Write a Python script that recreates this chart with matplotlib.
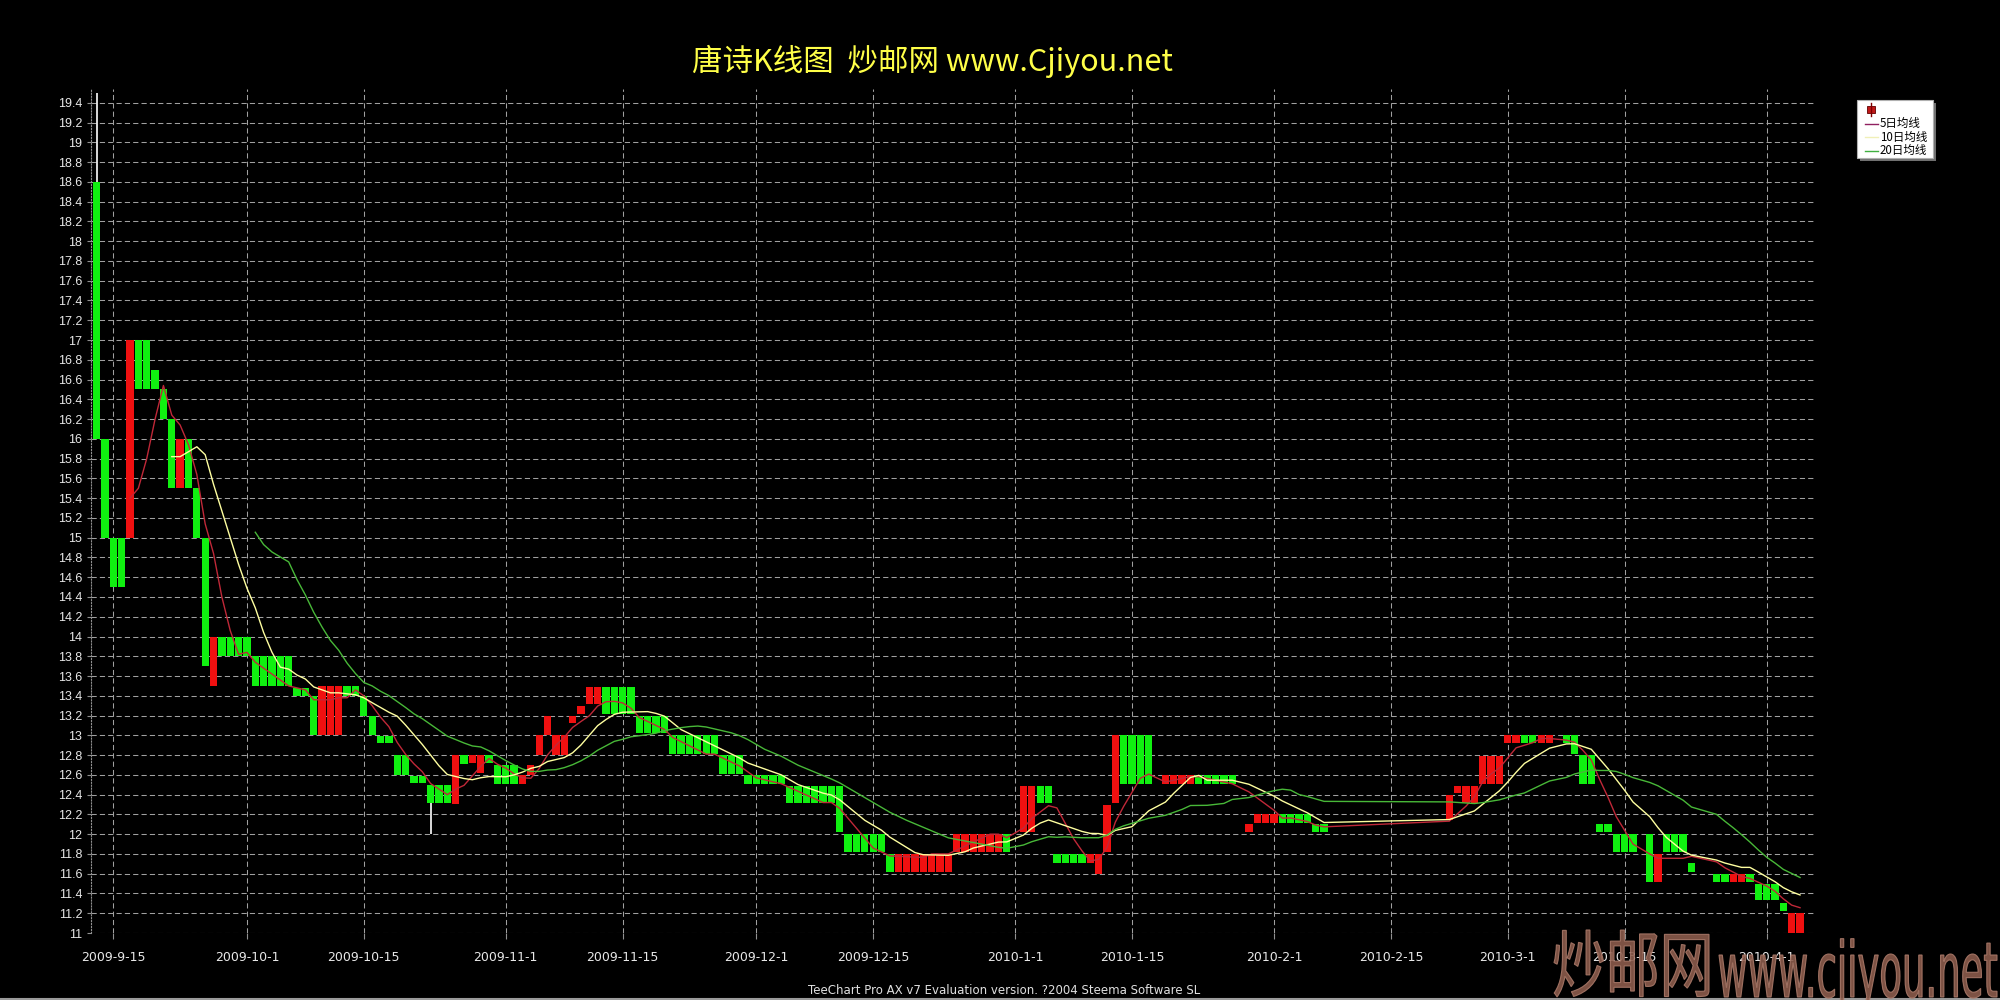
import matplotlib
matplotlib.use('Agg')
import numpy as np
import pandas as pd
import matplotlib.pyplot as plt
import matplotlib.dates as mdates
from matplotlib.patches import Rectangle, PathPatch
from matplotlib.lines import Line2D
from matplotlib.textpath import TextPath
from matplotlib.font_manager import FontProperties
from matplotlib.transforms import Affine2D

FIG_W, FIG_H = 2000, 1000
CJK = ['Noto Sans CJK SC', 'DejaVu Sans']
NARROW = ['Liberation Sans Narrow', 'DejaVu Sans']

# one candle per calendar day from START_DATE, None = no candle that day
START_DATE = '2009-09-13'

opens = [
    18.6, 16.0, 15.0, 15.0, 15.0, 17.0, 17.0, 16.7, 16.5, 16.2,
    15.5, 16.0, 15.5, 15.0, 13.5, 14.0, 14.0, 14.0, 14.0, 13.8,
    13.8, 13.8, 13.8, 13.8, 13.48, 13.48, 13.4, 13.0, 13.0, 13.0,
    13.5, 13.5, 13.4, 13.2, 12.99, 12.99, 12.8, 12.8, 12.59, 12.59,
    12.5, 12.5, 12.5, 12.31, 12.8, 12.72, 12.62, 12.8, 12.7, 12.7,
    12.7, 12.51, 12.6, 12.8, 13.0, 12.8, 12.8, 13.12, 13.22, 13.32,
    13.32, 13.49, 13.49, 13.49, 13.49, 13.2, 13.2, 13.2, 13.2, 13.0,
    13.0, 13.0, 13.0, 13.0, 13.0, 12.8, 12.8, 12.8, 12.6, 12.6,
    12.6, 12.6, 12.6, 12.49, 12.49, 12.49, 12.49, 12.49, 12.49, 12.49,
    12.0, 12.0, 12.0, 12.0, 12.0, 11.8, 11.62, 11.62, 11.62, 11.62,
    11.62, 11.62, 11.62, 11.82, 11.82, 11.82, 11.82, 11.82, 11.82, 12.0,
    None, 12.02, 12.02, 12.49, 12.49, 11.8, 11.8, 11.8, 11.8, 11.71,
    11.6, 11.82, 12.32, 13.0, 13.0, 13.0, 13.0, None, 12.51, 12.51,
    12.51, 12.51, 12.6, 12.6, 12.6, 12.6, 12.6, None, 12.02, 12.11,
    12.11, 12.11, 12.2, 12.2, 12.2, 12.2, 12.1, 12.1, None, None,
    None, None, None, None, None, None, None, None, None, None,
    None, None, 12.14, 12.42, 12.32, 12.32, 12.51, 12.51, 12.51, 12.92,
    12.92, 13.0, 13.0, 12.92, 12.92, None, 13.0, 13.0, 12.8, 12.8,
    12.1, 12.1, 12.0, 12.0, 12.0, None, 12.0, 11.52, 12.0, 12.0,
    12.0, 11.71, None, None, 11.6, 11.6, 11.52, 11.52, 11.6, 11.5,
    11.5, 11.5, 11.3, 11.0, 11.0,
]

closes = [
    16.0, 15.0, 14.5, 14.5, 17.0, 16.5, 16.5, 16.5, 16.2, 15.5,
    16.0, 15.5, 15.0, 13.7, 14.0, 13.8, 13.8, 13.8, 13.8, 13.5,
    13.5, 13.5, 13.5, 13.5, 13.4, 13.4, 13.0, 13.5, 13.5, 13.5,
    13.4, 13.4, 13.2, 13.0, 12.92, 12.92, 12.6, 12.6, 12.52, 12.52,
    12.32, 12.32, 12.32, 12.8, 12.71, 12.8, 12.8, 12.72, 12.51, 12.51,
    12.51, 12.6, 12.7, 13.0, 13.2, 13.0, 13.0, 13.2, 13.3, 13.49,
    13.49, 13.22, 13.22, 13.22, 13.22, 13.02, 13.02, 13.02, 13.02, 12.81,
    12.81, 12.81, 12.81, 12.81, 12.81, 12.61, 12.61, 12.61, 12.51, 12.51,
    12.51, 12.51, 12.51, 12.32, 12.32, 12.32, 12.32, 12.32, 12.32, 12.02,
    11.82, 11.82, 11.82, 11.82, 11.82, 11.62, 11.8, 11.8, 11.8, 11.8,
    11.8, 11.8, 11.8, 12.0, 12.0, 12.0, 12.0, 12.0, 12.0, 11.82,
    None, 12.49, 12.49, 12.32, 12.32, 11.71, 11.71, 11.71, 11.71, 11.8,
    11.8, 12.3, 13.0, 12.51, 12.51, 12.51, 12.51, None, 12.6, 12.6,
    12.6, 12.6, 12.51, 12.51, 12.51, 12.51, 12.51, None, 12.1, 12.2,
    12.2, 12.2, 12.11, 12.11, 12.11, 12.11, 12.02, 12.02, None, None,
    None, None, None, None, None, None, None, None, None, None,
    None, None, 12.4, 12.49, 12.49, 12.49, 12.79, 12.79, 12.79, 13.0,
    13.0, 12.92, 12.92, 13.0, 13.0, None, 12.92, 12.81, 12.51, 12.51,
    12.02, 12.02, 11.82, 11.82, 11.82, None, 11.52, 11.8, 11.82, 11.82,
    11.82, 11.62, None, None, 11.52, 11.52, 11.6, 11.6, 11.52, 11.33,
    11.33, 11.33, 11.22, 11.2, 11.2,
]

# visible shadows (candle position, low, high)
wick_pos  = [0, 40]
wick_low  = [16.0, 12.0]
wick_high = [19.5, 12.32]

ma_periods = [5, 10, 20]
ma_labels  = ['5日均线', '10日均线', '20日均线']
ma_colors  = ['#c02838', '#ffffa0', '#48b838']
ma_legend_colors = ['#902060', '#f0f0b8', '#40b040']

tick_dates  = ['2009-09-15', '2009-10-01', '2009-10-15', '2009-11-01', '2009-11-15',
               '2009-12-01', '2009-12-15', '2010-01-01', '2010-01-15', '2010-02-01',
               '2010-02-15', '2010-03-01', '2010-03-15', '2010-04-01']
tick_labels = ['2009-9-15', '2009-10-1', '2009-10-15', '2009-11-1', '2009-11-15',
               '2009-12-1', '2009-12-15', '2010-1-1', '2010-1-15', '2010-2-1',
               '2010-2-15', '2010-3-1', '2010-3-15', '2010-4-1']

TITLE     = '唐诗K线图  炒邮网 www.Cjiyou.net'
FOOTER    = 'TeeChart Pro AX v7 Evaluation version. ?2004 Steema Software SL'
WATERMARK = ['炒邮网', 'www.cjiyou.net']

UP_COLOR   = '#f01010'
DOWN_COLOR = '#10f010'
GRID_COLOR = '#a0a0a0'


def fig_xy(px, py):
    # pixel position (origin top-left) -> figure fraction
    return px / FIG_W, 1 - py / FIG_H


def stretched_text(fig, text, family, x0, x1, base, height, ref_height=None):
    # text drawn as a path and squeezed into a box given in pixels
    path = TextPath((0, 0), text, size=100, prop=FontProperties(family=family))
    ext = path.get_extents()
    sx = (x1 - x0) / ext.width
    if ref_height is None:
        sy = height / ext.height
        ty = base - ext.y0 * sy
    else:
        sy = height / ref_height
        ty = base
    tr = Affine2D().translate(-ext.x0, 0).scale(sx, sy).translate(x0, ty)
    patch = PathPatch(path, transform=tr, facecolor='#8c5c4c', edgecolor='#a87868',
                      lw=0.8, alpha=0.9, zorder=10)
    fig.add_artist(patch)


fig = plt.figure(figsize=(FIG_W / 100, FIG_H / 100), dpi=100, facecolor='black')

left, top = fig_xy(90.7, 89)
right, bottom = fig_xy(1815, 933)
ax = fig.add_axes([left, bottom, right - left, top - bottom], facecolor='black')

dates = pd.date_range(START_DATE, periods=len(opens))
x = mdates.date2num(dates)
o = np.array(opens, dtype=float)
c = np.array(closes, dtype=float)
ok = ~np.isnan(o)
up = ok & (c >= o)
dn = ok & (c < o)

ax.vlines(x[wick_pos], wick_low, wick_high, color='white', lw=1.2, zorder=2)
ax.bar(x[up], c[up] - o[up], bottom=o[up], width=0.87, color=UP_COLOR, lw=0, zorder=3)
ax.bar(x[dn], o[dn] - c[dn], bottom=c[dn], width=0.87, color=DOWN_COLOR, lw=0, zorder=3)

close_series = pd.Series(c, index=x).dropna()
for n, color in zip(ma_periods, ma_colors):
    ma = close_series.rolling(n).mean()
    ax.plot(ma.index, ma.values, color=color, lw=1.0, zorder=4)

# bottom axis in days: 8.35 px per day, first candle 0.71 day from the left edge
x_left = x[0] - 0.71
ax.set_xlim(x_left, x_left + (1815 - 90.7) / 8.35)
ax.set_ylim(11.0, 19.54)

yt = np.round(np.arange(11.0, 19.41, 0.2), 1)
ax.set_yticks(yt)
ax.set_yticklabels(['%g' % v for v in yt], fontfamily=['Liberation Sans', 'DejaVu Sans'])
ax.set_xticks(mdates.date2num(pd.to_datetime(tick_dates)))
ax.set_xticklabels(tick_labels, fontfamily=NARROW)

ax.tick_params(axis='y', colors='#909090', labelcolor='#e8e8e8', labelsize=9,
               length=3, width=0.8, pad=3)
ax.tick_params(axis='x', colors='#909090', labelcolor='#e8e8e8', labelsize=9,
               length=4, width=0.8, pad=9)

ax.set_axisbelow(True)
ax.grid(True, color=GRID_COLOR, linestyle=(0, (5, 3)), linewidth=0.75)

for side in ('top', 'right', 'bottom'):
    ax.spines[side].set_visible(False)
ax.spines['left'].set_color('#909090')
ax.spines['left'].set_linestyle(':')

# title and footer
tx, ty = fig_xy(932, 61)
fig.text(tx, ty, TITLE, ha='center', va='center', color='#ffff48', fontsize=22, family=CJK)
fx, fy = fig_xy(1004, 990)
fig.text(fx, fy, FOOTER, ha='center', va='center', color='#e0e0e0', fontsize=8.5, family=NARROW)

# legend box with shadow
sx0, sy0 = fig_xy(1860, 161)
fig.add_artist(Rectangle((sx0, sy0), 76 / FIG_W, 58 / FIG_H, transform=fig.transFigure,
                         facecolor='#707070', edgecolor='none'))
bx0, by0 = fig_xy(1857, 158)
fig.add_artist(Rectangle((bx0, by0), 76 / FIG_W, 58 / FIG_H, transform=fig.transFigure,
                         facecolor='white', edgecolor='#b0b0b0', lw=0.8))

# candle symbol
ix0, iy0 = fig_xy(1866.5, 112.5)
fig.add_artist(Line2D([1870.5 / FIG_W] * 2, [1 - 116 / FIG_H, 1 - 103 / FIG_H],
                      transform=fig.transFigure, color='#800000', lw=1))
fig.add_artist(Rectangle((ix0, iy0), 8 / FIG_W, 6.5 / FIG_H, transform=fig.transFigure,
                         facecolor='#c01818', edgecolor='#600000', lw=0.6))

for row, (label, color) in enumerate(zip(ma_labels, ma_legend_colors)):
    ly = 123.5 + row * 13.7
    fig.add_artist(Line2D([1865 / FIG_W, 1878 / FIG_W], [1 - ly / FIG_H] * 2,
                          transform=fig.transFigure, color=color, lw=1))
    lx, lyf = fig_xy(1880, ly)
    fig.text(lx, lyf, label, ha='left', va='center', color='black', fontsize=8.3, family=CJK)

# site watermark in the bottom right corner
stretched_text(fig, WATERMARK[0], 'Noto Sans CJK SC', 1554, 1709, 3, 67)
stretched_text(fig, WATERMARK[1], 'DejaVu Sans', 1719, 1997, 3, 42, ref_height=54.7)

# thin frame line at the bottom
fig.add_artist(Line2D([0, 1], [0.0015, 0.0015], transform=fig.transFigure,
                      color='#9a9a9a', lw=1.5))

fig.savefig('out.png', dpi=100, facecolor='black')
